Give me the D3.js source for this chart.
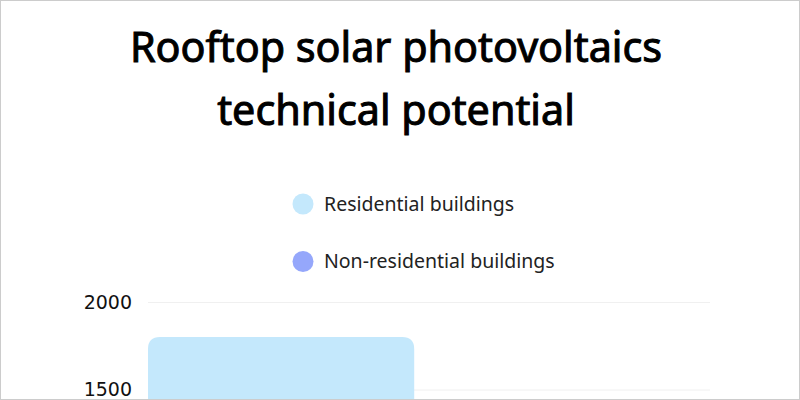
<!DOCTYPE html>
<html>
<head>
<meta charset="utf-8">
<script src="https://cdn.jsdelivr.net/npm/d3@7"></script>
<style>
  html, body { margin: 0; padding: 0; background: #fff; overflow: hidden; }
  svg { display: block; font-family: "Noto Sans", sans-serif; }
</style>
</head>
<body>
<svg id="chart" width="800" height="400"></svg>
<script>
// Chart data
var titleLines = ['Rooftop solar photovoltaics', 'technical potential'];
var categories = ['Residential buildings', 'Non-residential buildings'];
var potential = [1800, 1100];
var colors = ['#c4e8fc', '#95a7fb'];
var yTicks = [0, 500, 1000, 1500, 2000];

var width = 800;
var height = 400;
var radius = 12;

var svg = d3.select('svg#chart');

// Frame
svg.append('rect')
  .attr('x', 0.5).attr('y', 0.5)
  .attr('width', width - 1).attr('height', height - 1)
  .attr('fill', '#fff')
  .attr('stroke', '#cccccc');

// Title (regular face thickened with a thin stroke to get a medium weight)
svg.append('g').selectAll('text')
  .data(titleLines)
  .enter().append('text')
  .attr('x', 396)
  .attr('y', function(d, i) { return 62 + i * 63; })
  .attr('text-anchor', 'middle')
  .attr('font-size', 41.3)
  .attr('fill', '#000')
  .attr('stroke', '#000')
  .attr('stroke-width', 1)
  .text(function(d) { return d; });

// Legend
var legend = svg.append('g').selectAll('g')
  .data(categories)
  .enter().append('g')
  .attr('transform', function(d, i) { return 'translate(303,' + (204 + i * 57.5) + ')'; });
legend.append('circle')
  .attr('r', 10.5)
  .attr('fill', function(d, i) { return colors[i]; });
legend.append('text')
  .attr('x', 21)
  .attr('dy', '0.35em')
  .attr('font-size', 19.5)
  .attr('fill', '#222')
  .text(function(d) { return d; });

// Scales
var x = d3.scaleBand().domain(categories).range([148, 710]).paddingInner(0.1).paddingOuter(0);
var y = d3.scaleLinear().domain([0, 2000]).range([652, 302]);

// Grid + tick labels
var yAxis = d3.axisLeft(y).tickValues(yTicks).tickFormat(d3.format('d'))
  .tickSize(-(710 - 148)).tickPadding(16);
var axisG = svg.append('g')
  .attr('transform', 'translate(148,0)')
  .call(yAxis);
axisG.select('.domain').remove();
axisG.selectAll('.tick line').attr('stroke', '#f0f0f0');
axisG.selectAll('.tick text')
  .attr('font-family', '"DejaVu Sans", sans-serif')
  .attr('font-size', 19)
  .attr('fill', '#111');

// Bars with rounded tops
function topRounded(x0, y0, w, h, r) {
  return 'M' + x0 + ',' + (y0 + h) +
    'V' + (y0 + r) +
    'Q' + x0 + ',' + y0 + ' ' + (x0 + r) + ',' + y0 +
    'H' + (x0 + w - r) +
    'Q' + (x0 + w) + ',' + y0 + ' ' + (x0 + w) + ',' + (y0 + r) +
    'V' + (y0 + h) + 'Z';
}
svg.append('g').selectAll('path')
  .data(potential)
  .enter().append('path')
  .attr('fill', function(d, i) { return colors[i]; })
  .attr('d', function(d, i) {
    var x0 = x(categories[i]);
    return topRounded(x0, y(d), x.bandwidth(), y(0) - y(d), radius);
  });

// Re-draw frame edges over the bars
svg.append('rect')
  .attr('x', 0.5).attr('y', 0.5)
  .attr('width', width - 1).attr('height', height - 1)
  .attr('fill', 'none')
  .attr('stroke', '#cccccc');
</script>
</body>
</html>
